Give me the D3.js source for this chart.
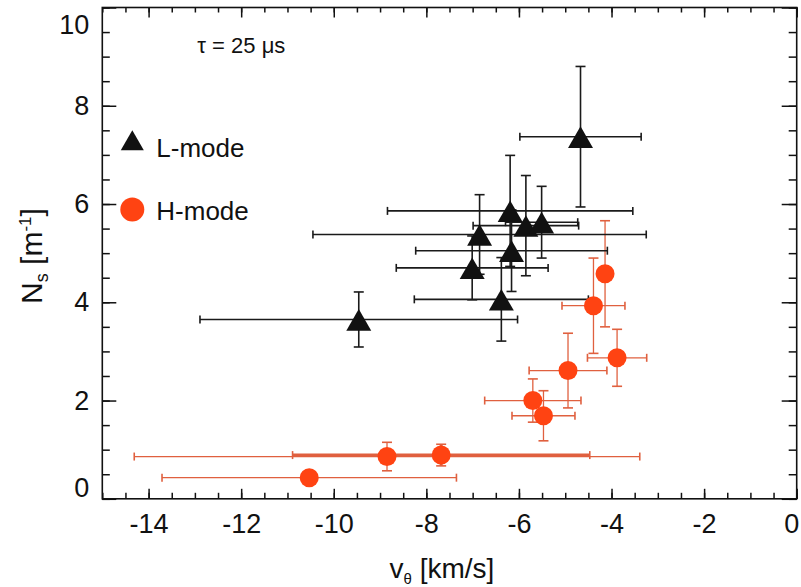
<!DOCTYPE html>
<html>
<head>
<meta charset="utf-8">
<script src="https://cdn.jsdelivr.net/npm/d3@7"></script>
<style>
  body { margin: 0; background: #fff; }
  svg text { font-family: "Liberation Sans", Arial, sans-serif; fill: #111; }
</style>
</head>
<body>
<svg id="chart" width="801" height="587"></svg>
<script>
// L-mode points (v_theta, N_s) with symmetric errors
var lModeV    = [-4.67, -6.19, -6.85, -5.85, -5.51, -6.16, -7.01, -6.38, -9.46];
var lModeN    = [7.37, 5.86, 5.38, 5.56, 5.63, 5.05, 4.70, 4.06, 3.65];
var lModeVErr = [1.31, 2.65, 3.60, 1.14, 0.78, 2.07, 1.64, 1.88, 3.43];
var lModeNErr = [1.43, 1.13, 0.81, 1.02, 0.73, 0.83, 0.65, 0.85, 0.56];

// H-mode points
var hModeV    = [-4.14, -4.39, -3.88, -4.94, -5.70, -5.47, -7.68, -8.85, -10.53];
var hModeN    = [4.58, 3.93, 2.87, 2.61, 2.00, 1.69, 0.89, 0.86, 0.43];
var hModeVErr = [0.15, 0.68, 0.64, 0.84, 1.04, 0.68, 3.21, 5.46, 3.18];
var hModeNErr = [1.08, 0.97, 0.58, 0.76, 0.44, 0.51, 0.22, 0.29, 0.10];

var xTicks = [-14, -12, -10, -8, -6, -4, -2, 0];
var yTicks = [0, 2, 4, 6, 8, 10];
var xMinorTicks = d3.range(-15, 0.01, 0.5);
var yMinorTicks = d3.range(0, 10.01, 0.5);

var legendLabels = ['L-mode', 'H-mode'];
var annotation = 'τ = 25 μs';

var red = '#ff4312', redBar = '#e0603f', black = '#111';

var margin = {top: 7.5, right: 4.3, bottom: 88.2, left: 102.3},
    width = 801 - margin.left - margin.right,
    height = 587 - margin.top - margin.bottom;

var svg = d3.select('#chart');
var g = svg.append('g')
  .attr('transform', 'translate(' + margin.left + ',' + margin.top + ')');

var x = d3.scaleLinear().domain([-15, 0]).range([0, width]);
var y = d3.scaleLinear().domain([0, 10]).range([height, 0]);

function zip(v, n, ve, ne) {
  return v.map(function (d, i) { return {v: d, n: n[i], ve: ve[i], ne: ne[i]}; });
}
var lData = zip(lModeV, lModeN, lModeVErr, lModeNErr);
var hData = zip(hModeV, hModeN, hModeVErr, hModeNErr);

// axes: ticks point inward on all four sides
function styleAxis(sel) {
  sel.select('.domain').remove();
  sel.selectAll('line').attr('stroke', black).attr('stroke-width', 1.5);
}
var noLabel = function () { return ''; };

g.append('g').attr('transform', 'translate(0,' + height + ')')
  .call(d3.axisBottom(x).tickValues(xMinorTicks).tickSize(-6).tickFormat(noLabel))
  .call(styleAxis);
var xAxis = g.append('g').attr('transform', 'translate(0,' + height + ')')
  .call(d3.axisBottom(x).tickValues(xTicks).tickSize(-10).tickPadding(15)
    .tickFormat(function (d) { return String(d); }))
  .call(styleAxis);
xAxis.selectAll('text').attr('font-size', 27);
// last label is pushed in a little so it stays on the page
xAxis.selectAll('.tick').filter(function (d) { return d === 0; })
  .select('text').attr('dx', '-0.2em');

g.append('g')
  .call(d3.axisTop(x).tickValues(xMinorTicks).tickSize(-5).tickFormat(noLabel))
  .call(styleAxis);
g.append('g')
  .call(d3.axisTop(x).tickValues(xTicks).tickSize(-10).tickFormat(noLabel))
  .call(styleAxis);

g.append('g')
  .call(d3.axisLeft(y).tickValues(yMinorTicks).tickSize(-7.5).tickFormat(noLabel))
  .call(styleAxis);
var yAxis = g.append('g')
  .call(d3.axisLeft(y).tickValues(yTicks).tickSize(-14).tickPadding(13)
    .tickFormat(function (d) { return String(d); }))
  .call(styleAxis);
yAxis.selectAll('text').attr('font-size', 27);
// end labels sit inside the frame like in the original figure
yAxis.selectAll('.tick').filter(function (d) { return d === 10; })
  .select('text').attr('dy', '0.95em');
yAxis.selectAll('.tick').filter(function (d) { return d === 0; })
  .select('text').attr('dy', '-0.1em');

g.append('g').attr('transform', 'translate(' + width + ',0)')
  .call(d3.axisRight(y).tickValues(yMinorTicks).tickSize(-8).tickFormat(noLabel))
  .call(styleAxis);
g.append('g').attr('transform', 'translate(' + width + ',0)')
  .call(d3.axisRight(y).tickValues(yTicks).tickSize(-15).tickFormat(noLabel))
  .call(styleAxis);

g.append('rect')
  .attr('width', width).attr('height', height)
  .attr('fill', 'none').attr('stroke', black).attr('stroke-width', 1.6);

// error bars
function drawErrors(data, color, lw, cap) {
  var eg = g.append('g').attr('stroke', color).attr('fill', 'none');
  var pts = eg.selectAll('g').data(data).enter().append('g')
    .attr('stroke-width', function (d, i) { return typeof lw === 'function' ? lw(d, i) : lw; });
  pts.append('line')
    .attr('x1', function (d) { return x(d.v - d.ve); })
    .attr('x2', function (d) { return x(d.v + d.ve); })
    .attr('y1', function (d) { return y(d.n); })
    .attr('y2', function (d) { return y(d.n); });
  pts.append('line')
    .attr('x1', function (d) { return x(d.v); })
    .attr('x2', function (d) { return x(d.v); })
    .attr('y1', function (d) { return y(d.n - d.ne); })
    .attr('y2', function (d) { return y(d.n + d.ne); });
  [-1, 1].forEach(function (s) {
    pts.append('line')
      .attr('stroke-width', 1.6)
      .attr('x1', function (d) { return x(d.v + s * d.ve); })
      .attr('x2', function (d) { return x(d.v + s * d.ve); })
      .attr('y1', function (d) { return y(d.n) - cap * 0.8; })
      .attr('y2', function (d) { return y(d.n) + cap * 0.8; });
    pts.append('line')
      .attr('stroke-width', 1.6)
      .attr('x1', function (d) { return x(d.v) - cap; })
      .attr('x2', function (d) { return x(d.v) + cap; })
      .attr('y1', function (d) { return y(d.n + s * d.ne); })
      .attr('y2', function (d) { return y(d.n + s * d.ne); });
  });
}

drawErrors(hData, redBar, function (d, i) { return i === 6 ? 3 : 1.3; }, 5);
drawErrors(lData, '#1a1a1a', 1.6, 5);

var tri = d3.symbol().type(d3.symbolTriangle).size(270);

// triangles are centred on their bounding box, not the centroid
g.append('g').selectAll('path').data(lData).enter().append('path')
  .attr('d', tri)
  .attr('fill', black)
  .attr('transform', function (d) {
    return 'translate(' + x(d.v) + ',' + (y(d.n) + 4) + ')';
  });

g.append('g').selectAll('circle').data(hData).enter().append('circle')
  .attr('cx', function (d) { return x(d.v); })
  .attr('cy', function (d) { return y(d.n); })
  .attr('r', 9.5)
  .attr('fill', red);

// annotation and legend
g.append('text')
  .attr('x', 95).attr('y', 45)
  .attr('font-size', 22)
  .text(annotation);

var legend = g.append('g').attr('transform', 'translate(30,130)');
legend.append('path')
  .attr('d', d3.symbol().type(d3.symbolTriangle).size(230))
  .attr('fill', black)
  .attr('transform', 'translate(0,6)');
legend.append('circle')
  .attr('cx', 0).attr('cy', 72).attr('r', 12)
  .attr('fill', red);
legend.selectAll('text.lbl').data(legendLabels).enter().append('text')
  .attr('class', 'lbl')
  .attr('x', 24)
  .attr('y', function (d, i) { return 19 + i * 63; })
  .attr('font-size', 26)
  .text(function (d) { return d; });

// axis titles
var xt = svg.append('text')
  .attr('x', 442).attr('y', 578)
  .attr('text-anchor', 'middle')
  .attr('font-size', 28);
xt.append('tspan').text('v');
xt.append('tspan').attr('font-size', 15).attr('dy', 6).text('θ');
xt.append('tspan').attr('dy', -6).text(' [km/s]');

var yt = svg.append('text')
  .attr('transform', 'translate(42,256) rotate(-90)')
  .attr('text-anchor', 'middle')
  .attr('font-size', 30);
yt.append('tspan').text('N');
yt.append('tspan').attr('font-size', 18).attr('dy', 6).text('s');
yt.append('tspan').attr('dy', -6).text(' [m');
yt.append('tspan').attr('font-size', 17).attr('dy', -11).text('-1');
yt.append('tspan').attr('dy', 11).text(']');
</script>
</body>
</html>
